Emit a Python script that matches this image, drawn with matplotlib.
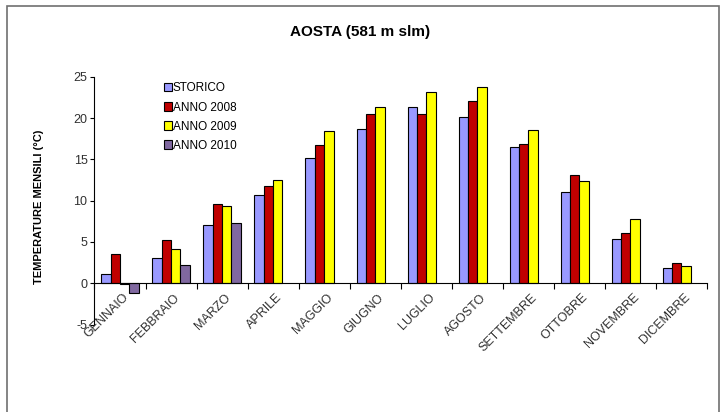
import numpy as np
import matplotlib
matplotlib.use('Agg')
import matplotlib.pyplot as plt
from matplotlib.patches import Rectangle

plt.rcParams['font.family'] = ['Liberation Sans', 'DejaVu Sans']
plt.rcParams['axes.unicode_minus'] = False

mesi = ['GENNAIO', 'FEBBRAIO', 'MARZO', 'APRILE', 'MAGGIO', 'GIUGNO',
        'LUGLIO', 'AGOSTO', 'SETTEMBRE', 'OTTOBRE', 'NOVEMBRE', 'DICEMBRE']
storico = [1.1, 3.1, 7.1, 10.7, 15.2, 18.7, 21.3, 20.1, 16.5, 11.1, 5.4, 1.9]
anno_2008 = [3.5, 5.2, 9.6, 11.8, 16.7, 20.5, 20.5, 22.1, 16.8, 13.1, 6.1, 2.4]
anno_2009 = [-0.1, 4.1, 9.4, 12.5, 18.4, 21.3, 23.1, 23.7, 18.5, 12.4, 7.8, 2.1]
anno_2010 = [-1.2, 2.2, 7.3, np.nan, np.nan, np.nan, np.nan, np.nan, np.nan, np.nan, np.nan, np.nan]

serie = [('STORICO', storico, '#9999FF'),
         ('ANNO 2008', anno_2008, '#C00000'),
         ('ANNO 2009', anno_2009, '#FFFF00'),
         ('ANNO 2010', anno_2010, '#8068A0')]

fig = plt.figure(figsize=(7.24, 4.12), dpi=100)
# outer frame like the original chart area
fig.patches.append(Rectangle((7 / 724, -0.1), 712 / 724, 1.1 - 6 / 412,
                             transform=fig.transFigure, fill=False,
                             edgecolor='#707070', linewidth=1.2))

ax = fig.add_axes([0.1305, 0.2121, 0.8460, 0.6017])

x = np.arange(len(mesi))
w = 0.183
for i, (nome, vals, col) in enumerate(serie):
    ax.bar(x + (i - 1.5) * w, vals, width=w, color=col, edgecolor='black',
           linewidth=0.8, label=nome)

ax.set_xlim(-0.5, len(mesi) - 0.5)
ax.set_ylim(-5, 25)
ax.set_yticks(range(-5, 26, 5))
ax.tick_params(axis='y', labelsize=9, length=3, pad=2, labelcolor='#303030')

ax.spines['top'].set_visible(False)
ax.spines['right'].set_visible(False)
ax.spines['bottom'].set_position(('data', 0))

# category boundary ticks
ax.set_xticks(np.arange(-0.5, len(mesi), 1.0))
ax.set_xticklabels([])
ax.tick_params(axis='x', length=4, direction='out')
for xi, m in zip(x, mesi):
    ax.text(xi + 0.05, -1.0, m, rotation=45, ha='right', va='top',
            rotation_mode='anchor', fontsize=9, color='#303030')

ax.legend(loc='upper left', bbox_to_anchor=(0.105, 0.996), frameon=False,
          fontsize=8.5, handlelength=0.7, handleheight=0.7, handletextpad=0.1,
          labelspacing=0.6, borderaxespad=0)

fig.text(360 / 724, 1 - 32 / 412, 'AOSTA (581 m slm)', ha='center', va='center',
         fontsize=11, fontweight='bold')
fig.text(39 / 724, 1 - 207 / 412, 'TEMPERATURE MENSILI (°C)', rotation=90,
         ha='center', va='center', fontsize=8, fontweight='bold')

fig.savefig('out.png', dpi=100)
